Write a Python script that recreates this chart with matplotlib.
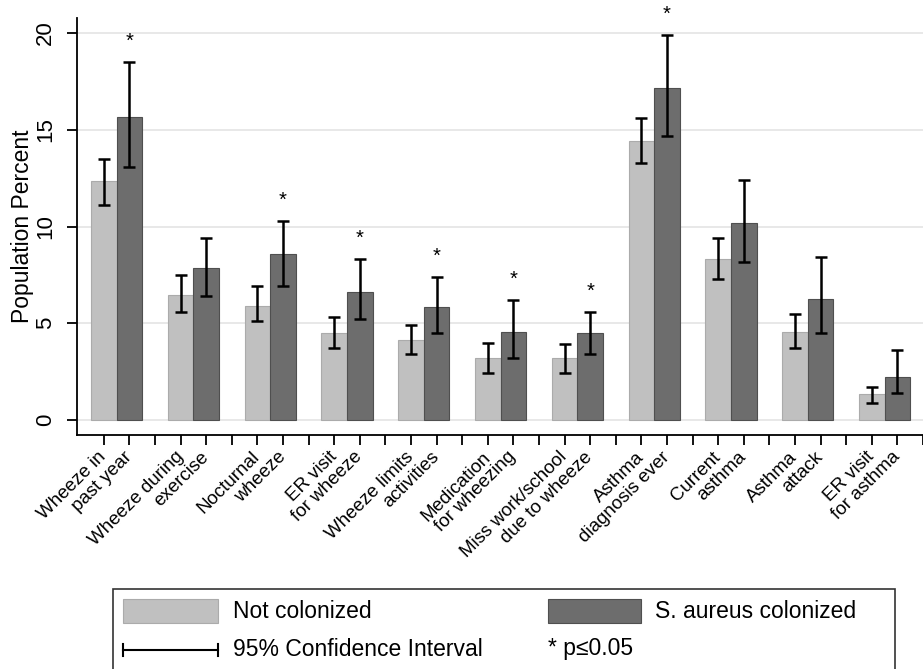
import matplotlib
matplotlib.use("Agg")
import matplotlib.pyplot as plt
from matplotlib.patches import Rectangle
from matplotlib.lines import Line2D
import numpy as np

plt.rcParams['font.family'] = ['Liberation Sans', 'DejaVu Sans']

# ---- data ----
label_line1 = ["Wheeze in", "Wheeze during", "Nocturnal", "ER visit", "Wheeze limits",
               "Medication", "Miss work/school", "Asthma", "Current", "Asthma", "ER visit"]
label_line2 = ["past year", "exercise", "wheeze", "for wheeze", "activities",
               "for wheezing", "due to wheeze", "diagnosis ever", "asthma", "attack", "for asthma"]
not_colonized = [12.35, 6.46, 5.9, 4.48, 4.13, 3.19, 3.19, 14.43, 8.32, 4.56, 1.33]
not_lo = [11.1, 5.6, 5.1, 3.7, 3.4, 2.4, 2.4, 13.3, 7.3, 3.7, 0.9]
not_hi = [13.5, 7.5, 6.9, 5.3, 4.9, 4.0, 3.9, 15.59, 9.39, 5.5, 1.69]
colonized = [15.64, 7.84, 8.58, 6.63, 5.82, 4.56, 4.48, 17.14, 10.16, 6.24, 2.21]
col_lo = [13.1, 6.4, 6.9, 5.2, 4.5, 3.2, 3.4, 14.68, 8.18, 4.5, 1.38]
col_hi = [18.5, 9.4, 10.3, 8.3, 7.4, 6.2, 5.6, 19.92, 12.4, 8.4, 3.62]
significant = [True, False, True, True, True, True, True, True, False, False, False]
yticks = [0, 5, 10, 15, 20]

LIGHT = "#c0c0c0"
DARK = "#6d6d6d"

fig = plt.figure(figsize=(9.23, 6.69), dpi=100)
W, H = 923, 669
ax = fig.add_axes([77 / W, 1 - 435 / H, (W - 77) / W, (435 - 18) / H])

n = len(label_line1)
g = np.arange(n)
pos_light = 3 * g
pos_dark = 3 * g + 1

nc = np.array(not_colonized)
cc = np.array(colonized)

ax.bar(pos_light, nc, width=1.0, color=LIGHT, edgecolor="#ababab", linewidth=0.8, zorder=2)
ax.bar(pos_dark, cc, width=1.0, color=DARK, edgecolor="#4f4f4f", linewidth=0.8, zorder=2)

ax.errorbar(pos_light, nc, yerr=[nc - np.array(not_lo), np.array(not_hi) - nc],
            fmt='none', ecolor='black', elinewidth=1.8, capsize=4.6, capthick=1.8, zorder=3)
ax.errorbar(pos_dark, cc, yerr=[cc - np.array(col_lo), np.array(col_hi) - cc],
            fmt='none', ecolor='black', elinewidth=1.8, capsize=4.6, capthick=1.8, zorder=3)

for i in range(n):
    if significant[i]:
        ax.text(pos_dark[i], col_hi[i] + 0.78, "*", ha='center', va='baseline',
                fontsize=14.5, color='black', zorder=4)

ax.set_xlim(-1.05, 31.78)
ax.set_ylim(-0.78, 20.78)
ax.set_yticks(yticks)
ax.set_yticklabels([str(v) for v in yticks], fontsize=16, rotation=90)
for lab in ax.get_yticklabels():
    lab.set_va('center')
ax.yaxis.grid(True, color="#e6e6e6", linewidth=1.3, zorder=0)
ax.set_axisbelow(True)
ax.set_ylabel("Population Percent", fontsize=16.5, labelpad=1)

slots = np.arange(0, 3 * n)
slot_labels = []
for s in slots:
    gi, r = divmod(s, 3)
    if r == 0:
        slot_labels.append(label_line1[gi])
    elif r == 1:
        slot_labels.append(label_line2[gi])
    else:
        slot_labels.append("")
ax.set_xticks(slots)
ax.set_xticklabels(slot_labels, fontsize=13.5, rotation=45, ha='right',
                   va='center', rotation_mode='anchor')
ax.tick_params(axis='x', length=7, width=1.3, pad=7)
ax.tick_params(axis='y', length=7, width=1.3, pad=8)

for side in ['top', 'right']:
    ax.spines[side].set_visible(False)
for side in ['left', 'bottom']:
    ax.spines[side].set_linewidth(1.3)

# ---- legend (manual, figure pixel coords) ----
def fx(x):
    return x / W

def fy(y):
    return 1 - y / H

fig.add_artist(Rectangle((fx(113), fy(700)), fx(895) - fx(113), fy(589) - fy(700),
                         transform=fig.transFigure, fill=False, edgecolor="#333333", linewidth=1.2))
fig.add_artist(Rectangle((fx(123), fy(623)), fx(218) - fx(123), fy(599) - fy(623),
                         transform=fig.transFigure, facecolor=LIGHT, edgecolor="#ababab", linewidth=0.8))
fig.add_artist(Rectangle((fx(548), fy(623)), fx(641) - fx(548), fy(599) - fy(623),
                         transform=fig.transFigure, facecolor=DARK, edgecolor="#4f4f4f", linewidth=0.8))
fig.add_artist(Line2D([fx(123), fx(218)], [fy(650), fy(650)], transform=fig.transFigure,
                      color='black', linewidth=1.5))
for xx in (123, 218):
    fig.add_artist(Line2D([fx(xx), fx(xx)], [fy(644), fy(656)], transform=fig.transFigure,
                          color='black', linewidth=1.5))
fig.text(fx(233), fy(611), "Not colonized", fontsize=16.5, va='center', ha='left')
fig.text(fx(655), fy(611), "S. aureus colonized", fontsize=16.5, va='center', ha='left')
fig.text(fx(233), fy(650), "95% Confidence Interval", fontsize=16.5, va='center', ha='left')
fig.text(fx(548), fy(649), "* p\u22640.05", fontsize=16.5, va='center', ha='left')

fig.savefig("out.png", dpi=100)
